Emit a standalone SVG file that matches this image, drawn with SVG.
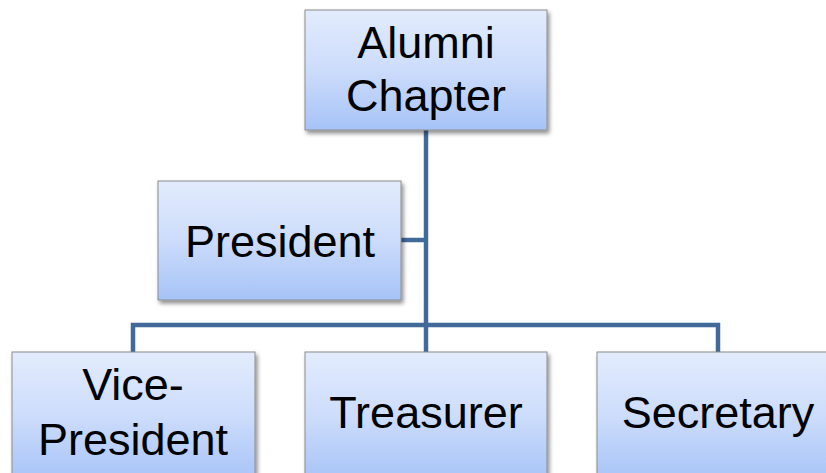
<svg xmlns="http://www.w3.org/2000/svg" width="826" height="473" viewBox="0 0 826 473">
<defs>
<linearGradient id="g" x1="0" y1="0" x2="0" y2="1">
<stop offset="0" stop-color="#E3ECFD"/>
<stop offset="0.5" stop-color="#CCDCFB"/>
<stop offset="1" stop-color="#A6C3F7"/>
</linearGradient>
<filter id="sh" x="-10%" y="-10%" width="130%" height="130%">
<feGaussianBlur in="SourceAlpha" stdDeviation="2"/>
<feOffset dx="2" dy="3" result="b"/>
<feComponentTransfer><feFuncA type="linear" slope="0.45"/></feComponentTransfer>
<feMerge><feMergeNode/><feMergeNode in="SourceGraphic"/></feMerge>
</filter>
</defs>
<style>
.box{fill:url(#g);stroke:#8C8C8C;stroke-width:1;filter:url(#sh)}
.t{font-family:"Liberation Sans",Arial,sans-serif;font-size:45px;fill:#000;text-anchor:middle}
.c{fill:none;stroke:#41699A;stroke-width:4.5}
</style>
<rect width="826" height="473" fill="#fff"/>
<g id="connectors">
<path class="c" d="M426 130 V325"/>
<path class="c" d="M401 240 H426"/>
<path class="c" d="M133 352 V325 H718 V352"/>
<path class="c" d="M426 325 V352"/>
</g>
<g id="alumni">
<rect class="box" x="305" y="10" width="242" height="120"/>
<text class="t" x="426" y="58">Alumni</text>
<text class="t" x="426" y="111">Chapter</text>
</g>
<g id="president">
<rect class="box" x="158" y="181" width="243" height="119"/>
<text class="t" x="280" y="257">President</text>
</g>
<g id="vice">
<rect class="box" x="12" y="352" width="243" height="130"/>
<text class="t" x="133" y="400">Vice-</text>
<text class="t" x="133" y="455">President</text>
</g>
<g id="treasurer">
<rect class="box" x="305" y="352" width="242" height="130"/>
<text class="t" x="426" y="428">Treasurer</text>
</g>
<g id="secretary">
<rect class="box" x="597" y="352" width="242" height="130"/>
<text class="t" x="718" y="428">Secretary</text>
</g>
</svg>
